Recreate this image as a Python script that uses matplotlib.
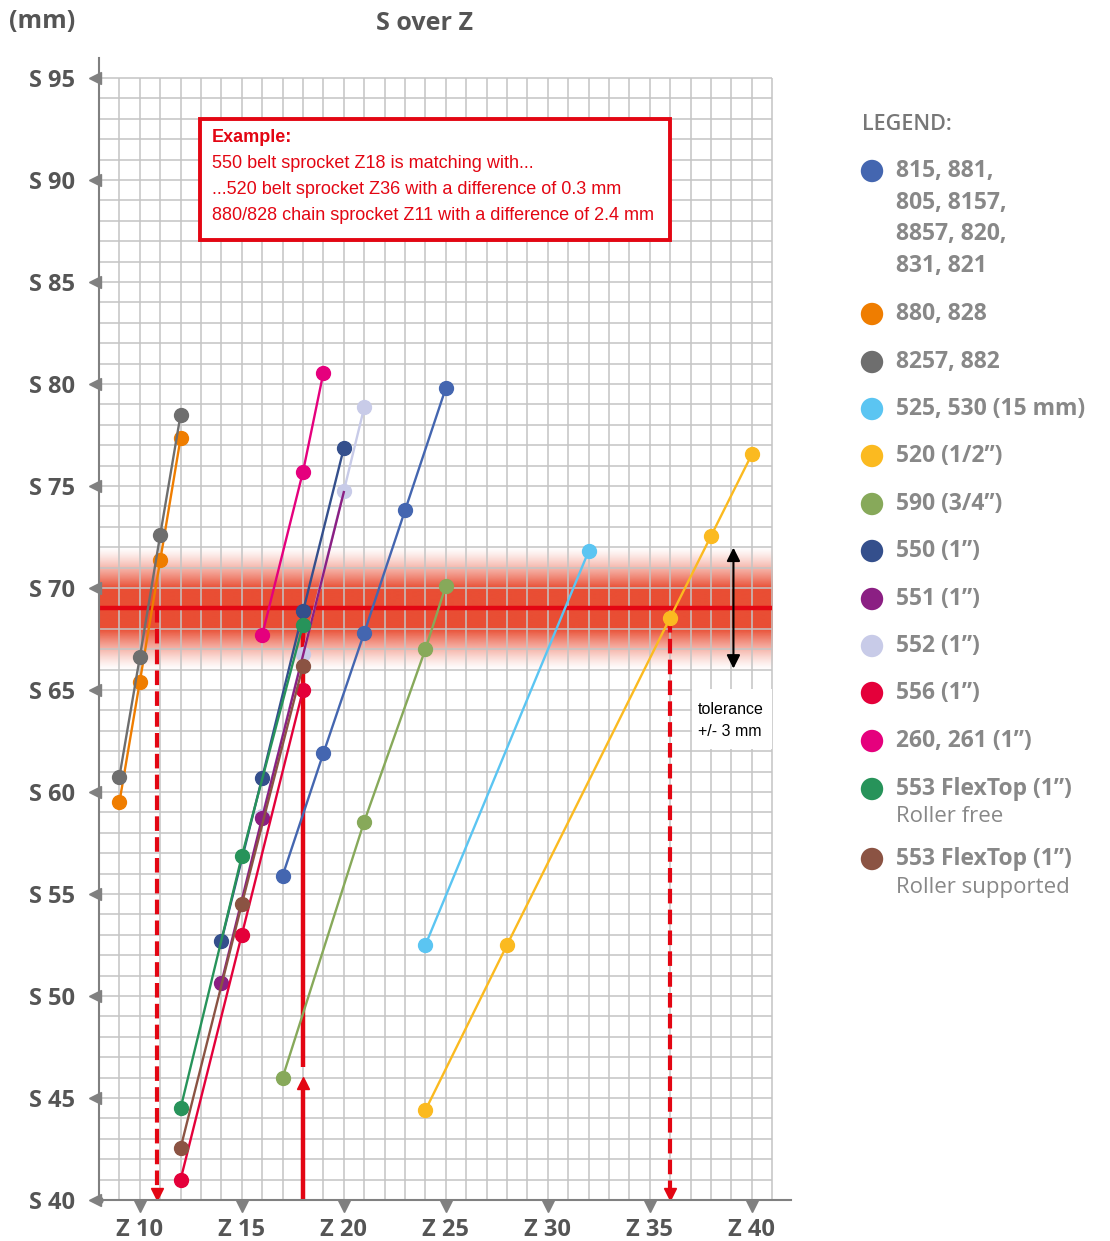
import numpy as np
import matplotlib.pyplot as plt
from matplotlib.patches import Rectangle

plt.rcParams['font.family'] = ['Open Sans', 'DejaVu Sans']
NARROW = ['Liberation Sans Narrow', 'Liberation Sans', 'DejaVu Sans']

# --- data (Z = teeth, S = sprocket size in mm) ---
z_815 = [17, 19, 21, 23, 25]
s_815 = [55.9, 61.9, 67.8, 73.8, 79.8]
z_880 = [9, 10, 11, 12]
s_880 = [59.5, 65.4, 71.35, 77.35]
z_8257 = [9, 10, 11, 12]
s_8257 = [60.75, 66.6, 72.6, 78.5]
z_525 = [24, 32]
s_525 = [52.5, 71.8]
z_520 = [24, 28, 36, 38, 40]
s_520 = [44.4, 52.5, 68.55, 72.55, 76.55]
z_590 = [17, 21, 24, 25]
s_590 = [46.0, 58.55, 67.0, 70.1]
z_550 = [14, 16, 18, 20]
s_550 = [52.7, 60.7, 68.85, 76.85]
z_551 = [14, 16, 18, 20]
s_551 = [50.65, 58.75, 66.7, 74.7]
z_552 = [16, 18, 20, 21]
s_552 = [58.8, 66.75, 74.75, 78.85]
z_556 = [12, 15, 18]
s_556 = [41.0, 53.0, 65.0]
z_260 = [16, 18, 19]
s_260 = [67.7, 75.7, 80.55]
z_553f = [12, 15, 18]
s_553f = [44.5, 56.85, 68.2]
z_553s = [12, 15, 18]
s_553s = [42.55, 54.5, 66.2]

legend_labels = [
    ['815, 881,', '805, 8157,', '8857, 820,', '831, 821'],
    ['880, 828'], ['8257, 882'], ['525, 530 (15 mm)'], ['520 (1/2\u201d)'],
    ['590 (3/4\u201d)'], ['550 (1\u201d)'], ['551 (1\u201d)'], ['552 (1\u201d)'],
    ['556 (1\u201d)'], ['260, 261 (1\u201d)'],
    ['553 FlexTop (1\u201d)', 'Roller free'],
    ['553 FlexTop (1\u201d)', 'Roller supported'],
]
legend_colors = ['#4466b0', '#ef7d00', '#6e6e6e', '#5bc5f2', '#fbba20',
                 '#87a95a', '#344f8c', '#8b1f83', '#c8cbe8', '#e4003a',
                 '#e5007d', '#27935a', '#8b5343']

target = 69
tol = 3
red = '#e30613'
axis_grey = '#808080'
label_grey = '#555555'

W, H = 1110, 1241
px = 20.4
fig = plt.figure(figsize=(W / 100, H / 100), dpi=100)
ax = fig.add_axes([99 / W, (H - 1200) / H, 33.9 * px / W, 56 * px / H])
ax.set_xlim(8, 41.9)
ax.set_ylim(40, 96)

# grid
ax.vlines(np.arange(8, 42), 40, 95, color='#c4c4c4', lw=1.1, zorder=1)
ax.hlines(np.arange(40, 96), 8, 41, color='#c4c4c4', lw=1.1, zorder=1)

# tolerance band
yy = np.linspace(target + tol, target - tol, 400)
dist = np.abs(yy - target)
alpha = np.clip((tol - dist) / 2.0, 0, 1) ** 1.3
band = np.zeros((len(yy), 1, 4))
band[:, 0, :3] = np.array([233, 78, 52]) / 255
band[:, 0, 3] = alpha
ax.imshow(band, extent=(8, 41, target - tol, target + tol), aspect='auto',
          interpolation='bilinear', zorder=0.5)
ax.hlines(target, 8, 41, color=red, lw=3.2, zorder=2)

# example markers (dashed + solid red guides)
dash = (0, (3.5, 1.5))
ax.plot([10.82, 10.82], [target, 40.6], color=red, lw=3, ls=dash, zorder=2.5)
ax.plot(10.82, 40.3, marker='v', ms=9, color=red, clip_on=False, zorder=2.5)
ax.plot([36, 36], [68.55, 40.6], color=red, lw=3, ls=dash, zorder=2.5)
ax.plot(36, 40.3, marker='v', ms=9, color=red, clip_on=False, zorder=2.5)
ax.plot([18, 18], [40, 45.4], color=red, lw=3.2, zorder=2.5, solid_capstyle='butt')
ax.plot(18, 45.72, marker='^', ms=9, color=red, zorder=2.5)
ax.plot([18, 18], [46.5, target], color=red, lw=3.2, zorder=2.5, solid_capstyle='butt')

# series
series = [(z_815, s_815), (z_880, s_880), (z_8257, s_8257), (z_525, s_525),
          (z_520, s_520), (z_590, s_590), (z_550, s_550), (z_552, s_552),
          (z_551, s_551), (z_556, s_556), (z_260, s_260), (z_553f, s_553f),
          (z_553s, s_553s)]
colors = ['#4466b0', '#ef7d00', '#6e6e6e', '#5bc5f2', '#fbba20', '#87a95a',
          '#344f8c', '#c8cbe8', '#8b1f83', '#e4003a', '#e5007d', '#27935a',
          '#8b5343']
for i, ((z, s), c) in enumerate(zip(series, colors)):
    mev = [0, 1] if c == '#8b1f83' else None
    ax.plot(z, s, '-o', color=c, lw=1.7, ms=10, markevery=mev, zorder=3 + i * 0.01)

# tolerance arrow + label box
ax.add_patch(Rectangle((37.06, 62.1), 3.94, 2.95, facecolor='white',
                       edgecolor='none', zorder=1.5))
ax.annotate('', xy=(39.1, 71.98), xytext=(39.1, 66.05),
            arrowprops=dict(arrowstyle='<|-|>', color='black', lw=1.5,
                            mutation_scale=20, shrinkA=0, shrinkB=0), zorder=4)

# example box
ax.add_patch(Rectangle((12.97, 87.05), 23.0, 5.95, facecolor='white',
                       edgecolor=red, lw=2.8, zorder=5))

# axes styling
for side in ['top', 'right']:
    ax.spines[side].set_visible(False)
for side in ['left', 'bottom']:
    ax.spines[side].set_color(axis_grey)
    ax.spines[side].set_linewidth(1.5)
    ax.spines[side].set_zorder(6)
yt = list(range(40, 100, 5))
xt = list(range(10, 45, 5))
ax.set_yticks(yt, [f'S {v}' for v in yt])
ax.set_xticks(xt, [f'Z {v}' for v in xt])
ax.tick_params(length=0, labelsize=17, labelcolor=label_grey)
ax.tick_params(axis='y', pad=17)
ax.tick_params(axis='x', pad=13)
for lab in ax.get_xticklabels() + ax.get_yticklabels():
    lab.set_fontweight('bold')
ax.plot([7.78] * len(yt), yt, marker='<', ls='none', ms=8, color=axis_grey,
        clip_on=False, zorder=6)
ax.plot(xt, [39.72] * len(xt), marker='v', ls='none', ms=8, color=axis_grey,
        clip_on=False, zorder=6)
ax.plot(8, 40, 'o', ms=5, color=axis_grey, clip_on=False, zorder=6)

# overlay in pixel coordinates for free text
ov = fig.add_axes([0, 0, 1, 1])
ov.set_xlim(0, W)
ov.set_ylim(H, 0)
ov.axis('off')

ov.text(425, 24, 'S over Z', ha='center', va='center', fontsize=18,
        fontweight='bold', color=label_grey)
ov.text(42, 22, '(mm)', ha='center', va='center', fontsize=18,
        fontweight='bold', color=label_grey)

ex_lines = ['550 belt sprocket Z18 is matching with...',
            '...520 belt sprocket Z36 with a difference of 0.3 mm',
            '880/828 chain sprocket Z11 with a difference of 2.4 mm']
ov.text(212, 137, 'Example:', ha='left', va='center', fontsize=13,
        fontweight='bold', color=red, family=NARROW)
for k, t in enumerate(ex_lines):
    ov.text(212, 163 + 26 * k, t, ha='left', va='center', fontsize=13,
            color=red, family=NARROW)

ov.text(698, 709, 'tolerance', ha='left', va='center', fontsize=11.5,
        color='black', family=NARROW)
ov.text(698, 732, '+/- 3 mm', ha='left', va='center', fontsize=11.5,
        color='black', family=NARROW)

# legend
ov.text(862, 124, 'LEGEND:', ha='left', va='center', fontsize=15.5,
        color='#777777', fontweight='semibold')
item_y = [171, 314, 362, 409, 456, 504, 551, 599, 646, 693, 741, 789, 859]
for y0, lines, c in zip(item_y, legend_labels, legend_colors):
    ov.scatter([872], [y0], s=260, color=c, edgecolors='none')
    if len(lines) == 2 and 'Roller' in lines[1]:
        ov.text(896, y0, lines[0], ha='left', va='center', fontsize=16.5,
                fontweight='bold', color='#888888')
        ov.text(896, y0 + 28, lines[1], ha='left', va='center', fontsize=16,
                color='#888888')
    else:
        for k, t in enumerate(lines):
            ov.text(896, y0 + 31.7 * k, t, ha='left', va='center', fontsize=16.5,
                    fontweight='bold', color='#888888')

fig.savefig('out.png', dpi=100)
